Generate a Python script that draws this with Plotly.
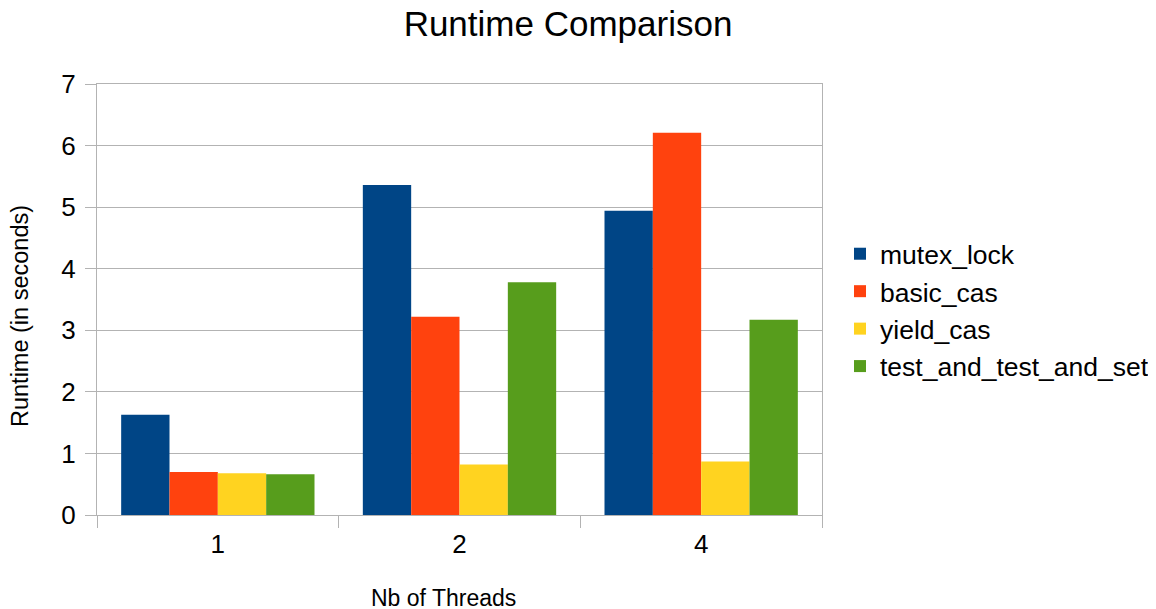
import plotly.graph_objects as go

categories = ["1", "2", "4"]
mutex_lock = [1.63, 5.36, 4.94]
basic_cas = [0.70, 3.22, 6.21]
yield_cas = [0.68, 0.82, 0.87]
test_and_test_and_set = [0.66, 3.78, 3.17]

series = [
    ("mutex_lock", mutex_lock, "#004586"),
    ("basic_cas", basic_cas, "#ff420e"),
    ("yield_cas", yield_cas, "#ffd320"),
    ("test_and_test_and_set", test_and_test_and_set, "#579d1c"),
]

fig = go.Figure()
for name, vals, col in series:
    fig.add_trace(go.Bar(x=categories, y=vals, name=name, marker_color=col,
                         marker_line_width=0))

# page has an 8px body margin; figure coords = page coords - 8
W, H = 1148, 601
L, T, PW, PH = 89, 76, 725, 431
font = "Liberation Sans, Arial, sans-serif"
fig.update_layout(
    width=W, height=H,
    paper_bgcolor="white", plot_bgcolor="white",
    margin=dict(l=L, r=W - L - PW, t=T, b=H - T - PH, autoexpand=False),
    barmode="group", bargap=0.2, bargroupgap=0,
    font=dict(family=font, color="#000000"),
    title=dict(text="Runtime Comparison", x=560/W, xanchor="center",
               y=1 - 16/H, yanchor="middle",
               font=dict(size=35, family=font, color="#000000")),
    legend=dict(x=(832 - L - 8 + 8)/PW, xanchor="left", y=(507 - 302)/PH, yanchor="middle",
                font=dict(size=26.5, family=font, color="#000000"),
                bgcolor="rgba(0,0,0,0)"),
    showlegend=True,
)
fig.update_xaxes(
    type="category", showline=True, mirror=True, linecolor="#b3b3b3", linewidth=1,
    showgrid=False, ticks="outside", tickson="boundaries", ticklen=12,
    tickcolor="#b3b3b3", ticklabelstandoff=6,
    tickfont=dict(size=26, family=font, color="#000000"),
)
fig.update_yaxes(
    range=[0, 7], dtick=1, showline=True, mirror=True, linecolor="#b3b3b3",
    linewidth=1, showgrid=True, gridcolor="#b3b3b3", gridwidth=1,
    ticks="outside", ticklen=11, tickcolor="#b3b3b3", ticklabelstandoff=4,
    tickfont=dict(size=26, family=font, color="#000000"), zeroline=False,
)
fig.add_annotation(text="Nb of Threads", xref="paper", yref="paper",
                   x=(443 - 97)/PW, y=-(598 - 515)/PH, xanchor="center", yanchor="middle",
                   showarrow=False, font=dict(size=23, family=font, color="#000000"))
fig.add_annotation(text="Runtime (in seconds)", xref="paper", yref="paper",
                   x=-(97 - 20)/PW, y=(515 - 316)/PH, xanchor="center", yanchor="middle",
                   textangle=-90, showarrow=False,
                   font=dict(size=23.5, family=font, color="#000000"))

fig.write_html("out.html")
